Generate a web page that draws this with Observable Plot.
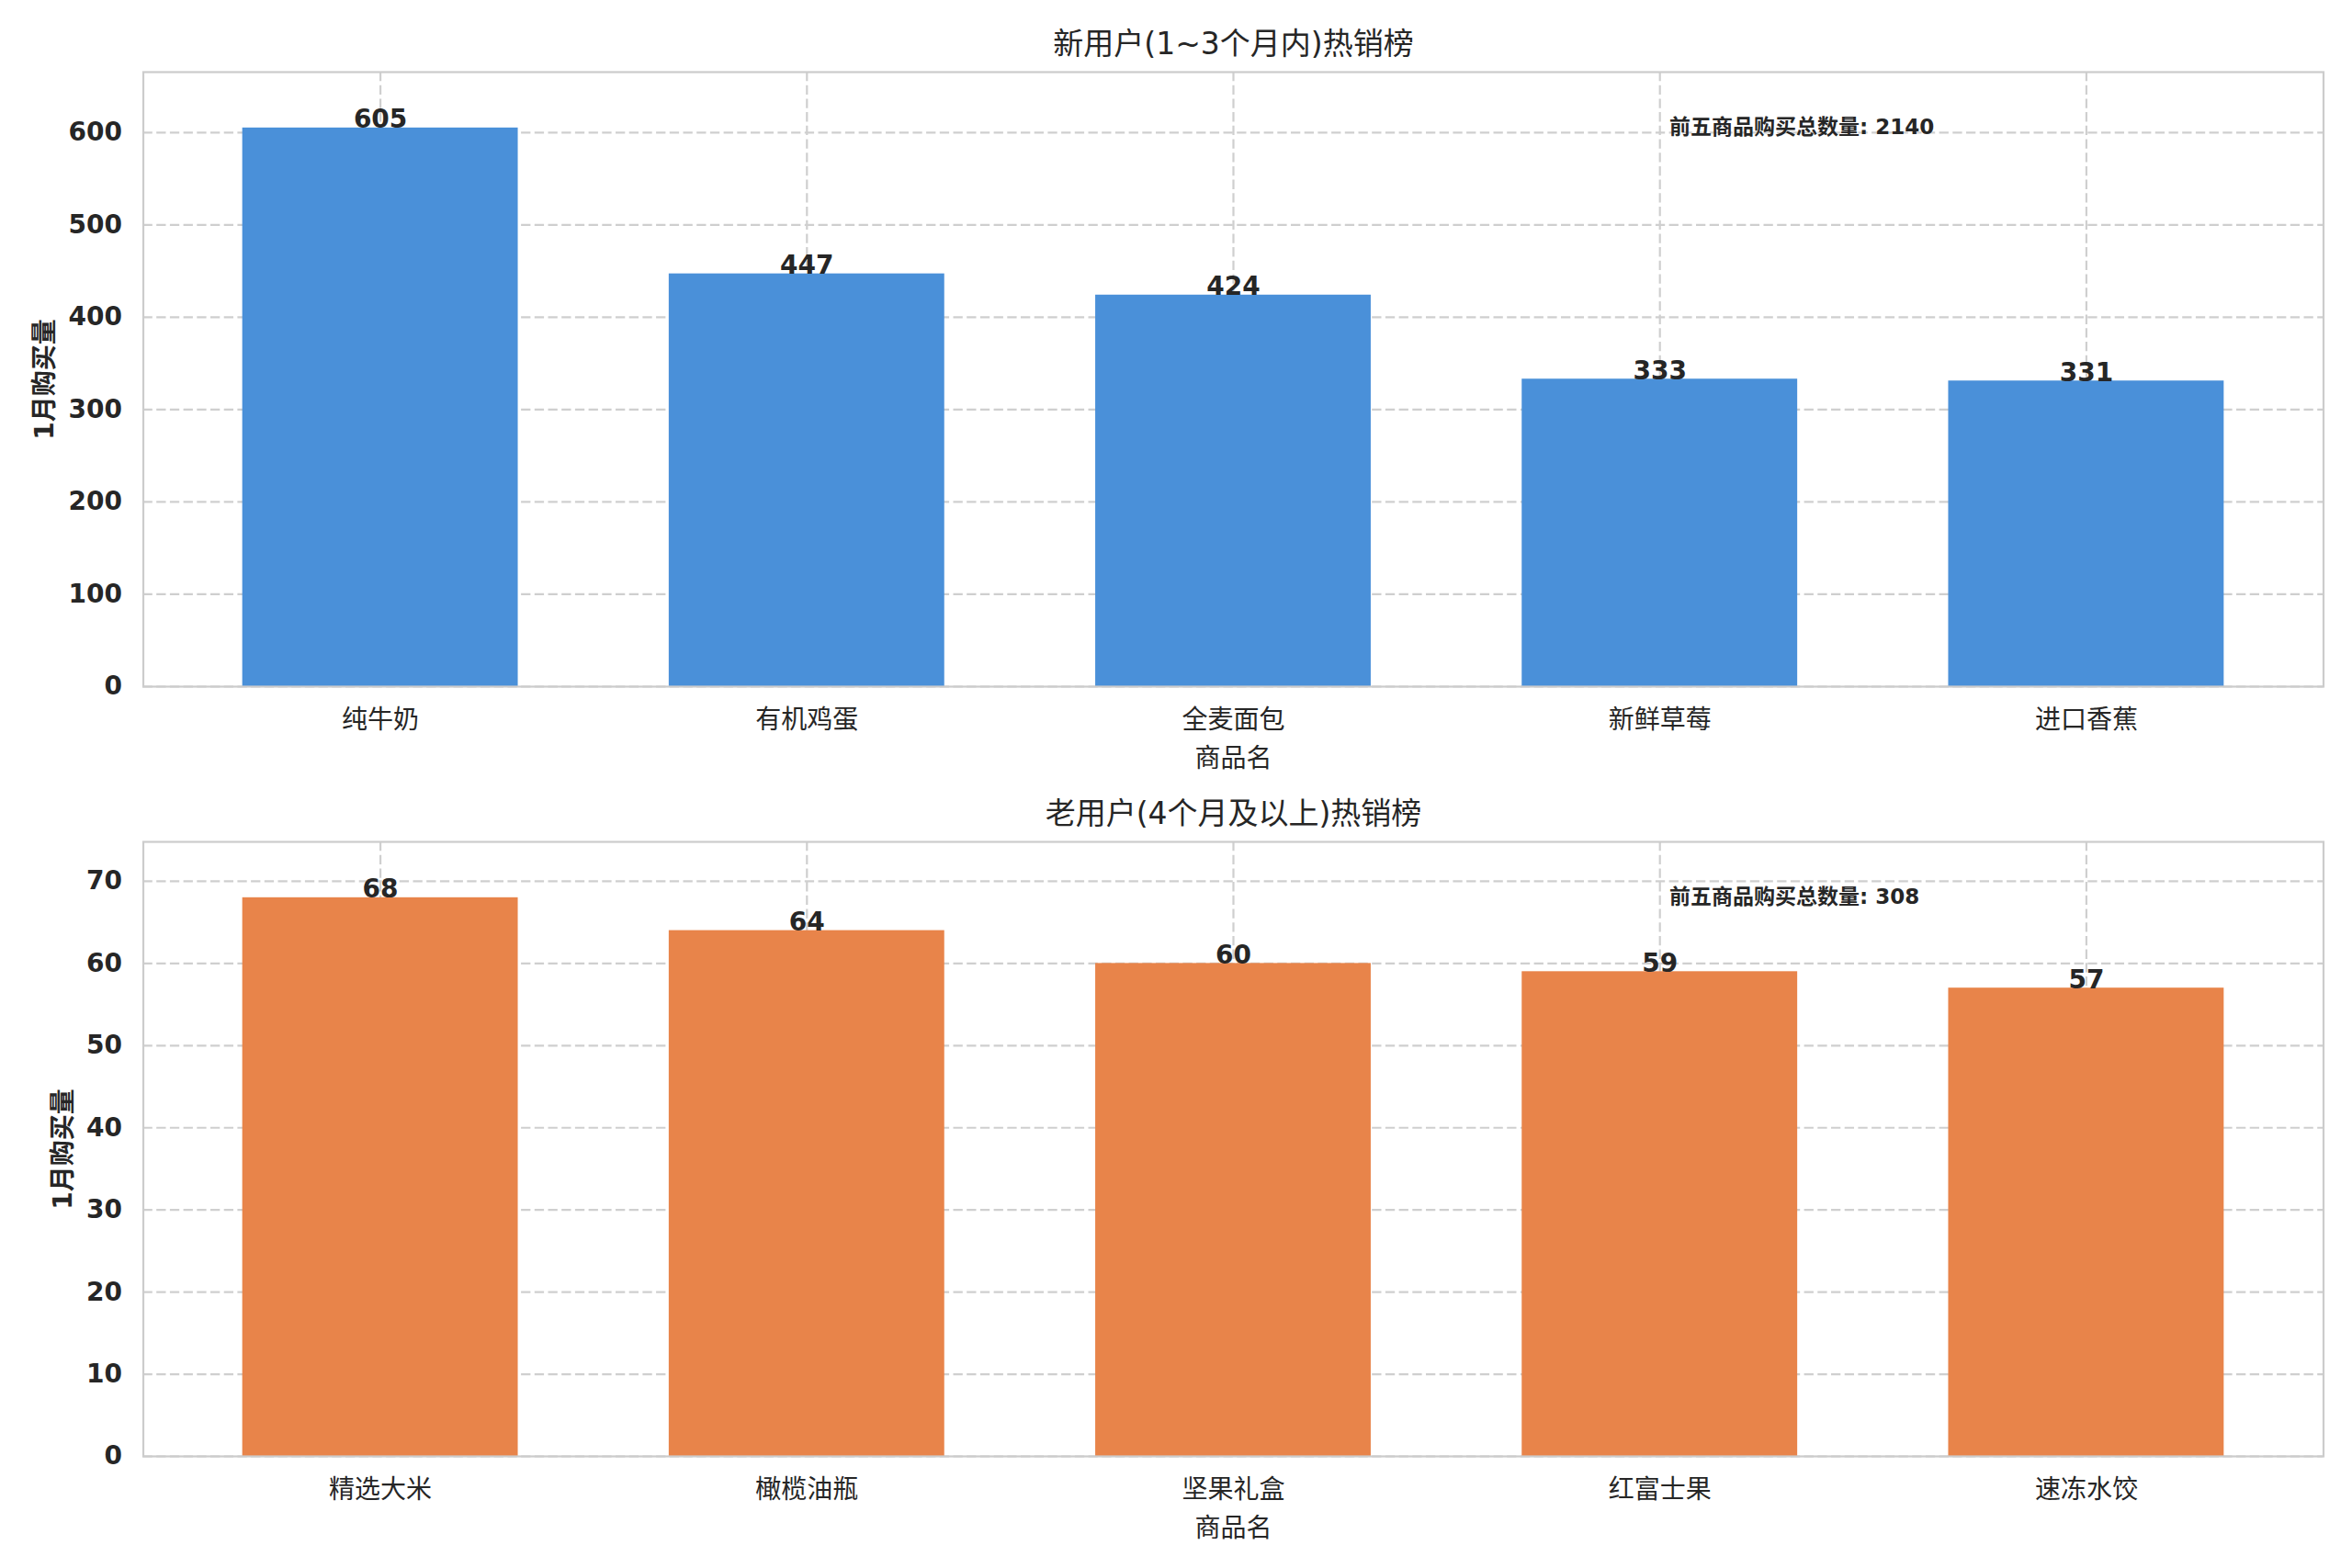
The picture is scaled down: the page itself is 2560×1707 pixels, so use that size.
<!DOCTYPE html>
<html>
<head>
<meta charset="utf-8">
<script src="https://cdn.jsdelivr.net/npm/d3@7"></script>
<script src="https://cdn.jsdelivr.net/npm/@observablehq/plot@0.6"></script>
<style>
  body { margin: 0; background: #ffffff; }
  #chart { width: 2560px; background: #ffffff; }
  #chart svg { display: block; }
</style>
</head>
<body>
<div id="chart"></div>
<script>
// ---- data ----
const topTitle = "新用户(1~3个月内)热销榜";
const bottomTitle = "老用户(4个月及以上)热销榜";
const yLabel = "1月购买量";
const xLabel = "商品名";
const totalLabel = "前五商品购买总数量";

const topCategories = ["纯牛奶", "有机鸡蛋", "全麦面包", "新鲜草莓", "进口香蕉"];
const topValues = [605, 447, 424, 333, 331];
const topTicks = [0, 100, 200, 300, 400, 500, 600];

const bottomCategories = ["精选大米", "橄榄油瓶", "坚果礼盒", "红富士果", "速冻水饺"];
const bottomValues = [68, 64, 60, 59, 57];
const bottomTicks = [0, 10, 20, 30, 40, 50, 60, 70];

const topColor = "#4a90d9";
const bottomColor = "#e8844a";

// ---- style ----
const FONT = '"DejaVu Sans", "Noto Sans CJK SC", sans-serif';
const INK = "#262626";
const GRID = "#cfcfcf";
const SPINE = "#cccccc";

function panel({categories, values, ticks, color, title, height, marginTop, marginBottom, yLabelDx}) {
  const data = categories.map((c, i) => ({category: c, value: values[i]}));
  const total = d3.sum(values);
  return Plot.plot({
    width: 2560,
    height,
    marginTop,
    marginBottom,
    marginLeft: 155.5,
    marginRight: 31.5,
    style: {fontFamily: FONT, color: INK, background: "#ffffff", overflow: "visible"},
    x: {type: "band", domain: categories, paddingInner: 0.354, paddingOuter: 0.233, align: 0.5, round: false, label: null},
    y: {domain: [0, d3.max(values) * 1.1], label: null},
    marks: [
      Plot.gridY(ticks, {stroke: GRID, strokeOpacity: 1, strokeWidth: 2.2, strokeDasharray: "10.3,4.4"}),
      Plot.gridX({stroke: GRID, strokeOpacity: 1, strokeWidth: 2.2, strokeDasharray: "10.3,4.4"}),
      Plot.barY(data, {x: "category", y: "value", fill: color}),
      Plot.frame({stroke: SPINE, strokeWidth: 2.2}),
      Plot.axisY(ticks, {tickSize: 0, tickPadding: 23, fontSize: 28, fontWeight: "bold", fill: INK, label: null}),
      Plot.axisX({tickSize: 0, tickPadding: 26, fontSize: 28, fill: INK, label: null}),
      Plot.text(data, {x: "category", y: "value", text: d => String(d.value), lineAnchor: "bottom",
        fontSize: 28, fontWeight: "bold", fill: INK}),
      Plot.text([title], {text: d => d, frameAnchor: "top", dy: -20, lineAnchor: "bottom", fontSize: 33, fill: INK}),
      Plot.text([xLabel], {text: d => d, frameAnchor: "bottom", dy: 87, lineAnchor: "bottom", fontSize: 28, fill: INK}),
      Plot.text([yLabel], {text: d => d, frameAnchor: "left", dx: yLabelDx, rotate: -90, textAnchor: "middle",
        lineAnchor: "middle", fontSize: 28, fontWeight: "bold", fill: INK}),
      Plot.text([`${totalLabel}: ${total}`], {text: d => d, frameAnchor: "top-left", dx: 1661, dy: 67,
        lineAnchor: "bottom", textAnchor: "start", fontSize: 23, fontWeight: "bold", fill: INK})
    ]
  });
}

const chart = document.getElementById("chart");
chart.append(panel({
  categories: topCategories, values: topValues, ticks: topTicks, color: topColor, title: topTitle,
  height: 840, marginTop: 78, marginBottom: 93, yLabelDx: -107
}));
chart.append(panel({
  categories: bottomCategories, values: bottomValues, ticks: bottomTicks, color: bottomColor, title: bottomTitle,
  height: 867, marginTop: 76, marginBottom: 122, yLabelDx: -87
}));
</script>
</body>
</html>
